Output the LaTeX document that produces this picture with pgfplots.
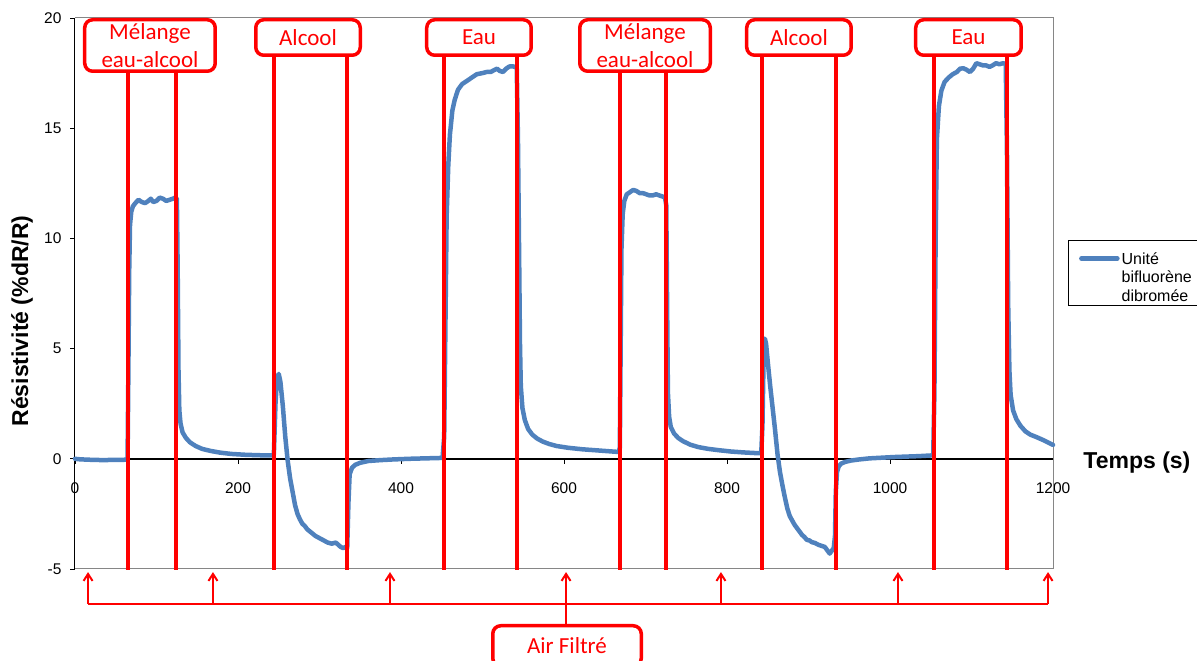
\documentclass[border=0pt]{standalone}
\usepackage{fontspec}
\setmainfont{Liberation Sans}
\newfontfamily\calfont{Carlito}
\usepackage{pgfplots}
\pgfplotsset{compat=1.18}
\usetikzlibrary{arrows.meta}
\definecolor{exblue}{RGB}{79,129,189}
\definecolor{frameg}{RGB}{134,134,134}
\tikzset{redbox/.style={draw=red, line width=3.5pt, rounded corners=8pt, fill=white, inner sep=0pt,
   anchor=north, align=center, text=red, font=\calfont\fontsize{23}{28}\selectfont}}
\begin{document}
\begin{tikzpicture}
\path[use as bounding box] (-75pt,-92pt) rectangle (1122pt,569pt);
\begin{axis}[
 scale only axis, width=978pt, height=551pt,
 xmin=0,xmax=1200,ymin=-5,ymax=20,
 axis x line=middle, axis y line=left,
 axis line style={-},
 x axis line style={black, line width=1.5pt},
 y axis line style={black, line width=1pt},
 hide obscured x ticks=false, hide obscured y ticks=false,
 xtick={0,200,400,600,800,1000,1200}, xticklabels={0,200,400,600,800,1000,1200},
 ytick={-5,0,5,10,15,20}, yticklabels={-5,0,5,10,15,20},
 xtick align=outside, ytick align=outside, major tick length=5pt,
 tick style={black, line width=0.8pt},
 xticklabel style={font=\fontsize{15.5}{15.5}\selectfont, yshift=-15pt},
 yticklabel style={font=\fontsize{15.5}{15.5}\selectfont, xshift=-5pt},
 clip=false,
 legend style={at={(1.0153,0.5971)}, anchor=north west, draw=black, line width=0.8pt,
   font=\fontsize{16}{18.5}\selectfont, inner xsep=3pt, inner ysep=1pt,
   cells={anchor=base west, inner sep=0pt}},
 legend image code/.code={\path[draw=none] (0pt,0pt) -- (47pt,0pt);
   \draw[#1, line width=4.5pt, line cap=round] (10pt,43pt) -- (46pt,43pt);},
]
\draw[frameg, line width=1pt] (axis cs:0,20) -- (axis cs:1200,20) -- (axis cs:1200,-5) -- (axis cs:0,-5);
\addplot[exblue, line width=4.5pt, line join=round, line cap=round] coordinates {
(0,0.0) (5,-0.02) (15,-0.04) (25,-0.05) (35,-0.06) (45,-0.05) (55,-0.05) (63,-0.04) (64.5,0.0)
(65.5,4.0) (66.5,8.5) (67.5,10.6) (69,11.2) (71,11.45) (74,11.6) (78,11.75) (82,11.65) (86,11.6) (90,11.7) (93,11.8) (96,11.65) (100,11.7) (104,11.85) (108,11.8) (112,11.7) (116,11.75) (120,11.8) (123,11.85) (125,11.8)
(126,8.5) (127,4.0) (128,2.2) (129.5,1.6) (132,1.2) (136,0.95) (141,0.75) (148,0.58) (156,0.45) (166,0.36) (178,0.28) (192,0.22) (210,0.18) (228,0.16) (242,0.15)
(244,0.2) (246,2.5) (248,3.7) (250,3.85) (252,3.5) (255,2.4) (258,1.0) (261,-0.1) (264,-0.9) (267,-1.5) (270,-2.1) (273,-2.5) (276,-2.75) (279,-2.95) (282,-3.05) (285,-3.2) (290,-3.35) (295,-3.5) (300,-3.6) (305,-3.7) (310,-3.8) (315,-3.85) (320,-3.8) (323,-3.9) (326,-4.0) (329,-4.05) (332,-4.0) (334,-4.05)
(335.5,-2.0) (337,-0.7) (340,-0.4) (344,-0.27) (350,-0.18) (360,-0.1) (375,-0.06) (390,-0.03) (410,0.0) (430,0.02) (451,0.04)
(453,1.0) (454.5,6) (456,11) (458,13.3) (460,14.7) (463,15.8) (466,16.3) (470,16.75) (475,17.0) (481,17.15) (487,17.3) (493,17.45) (500,17.5) (505,17.55) (510,17.55) (515,17.65) (518,17.7) (521,17.6) (525,17.55) (529,17.7) (533,17.8) (538,17.8) (542,17.75)
(543.5,14.5) (545,9) (546,5.2) (547,3.3) (549,2.3) (552,1.75) (556,1.35) (561,1.1) (567,0.92) (574,0.78) (582,0.67) (591,0.58) (605,0.5) (623,0.43) (645,0.37) (667,0.31)
(668.5,0.5) (669.5,5) (670.5,9.5) (672,11.1) (674,11.7) (677,12.0) (681,12.1) (685,12.2) (689,12.15) (693,12.05) (697,12.05) (701,12.0) (705,11.95) (709,11.95) (713,12.0) (717,11.95) (721,11.9) (724,11.85) (725.5,11.5)
(726.5,7) (727.5,3.0) (729,1.9) (731,1.45) (735,1.15) (740,0.95) (746,0.8) (755,0.64) (765,0.53) (777,0.45) (790,0.39) (805,0.33) (820,0.29) (835,0.26) (842,0.25)
(843.5,1.5) (845,4.8) (846.5,5.45) (848,5.2) (850,4.4) (853,3.3) (856,2.3) (859,1.3) (862,0.2) (865,-0.6) (868,-1.2) (871,-1.75) (874,-2.25) (877,-2.6) (880,-2.8) (883,-3.0) (886,-3.15) (889,-3.3) (892,-3.45) (895,-3.55) (898,-3.68) (901,-3.7) (904,-3.78) (908,-3.82) (912,-3.9) (916,-3.95) (920,-4.0) (923,-4.15) (926,-4.3) (928,-4.2) (931,-4.05) (932.5,-3.5)
(933.5,-1.5) (935,-0.6) (937,-0.35) (940,-0.22) (945,-0.14) (952,-0.08) (962,-0.03) (975,0.02) (990,0.05) (1005,0.08) (1020,0.1) (1035,0.12) (1050,0.15) (1053,0.15)
(1054.5,3) (1056,10) (1057.5,14.5) (1060,16.0) (1063,16.7) (1067,17.1) (1072,17.3) (1077,17.45) (1082,17.55) (1086,17.7) (1090,17.72) (1094,17.65) (1098,17.55) (1102,17.7) (1106,17.95) (1110,17.9) (1114,17.85) (1118,17.85) (1122,17.78) (1126,17.85) (1130,17.95) (1134,17.9) (1139,17.95) (1142,17.9)
(1143.5,14) (1145,7) (1146.5,4.0) (1148,2.9) (1151,2.2) (1155,1.8) (1160,1.5) (1166,1.25) (1172,1.1) (1180,0.98) (1188,0.85) (1195,0.72) (1200,0.63)
};
\addlegendentry{\begin{tabular}[b]{@{}l@{}}\rule{0pt}{21pt}Unité\\bifluorène\\dibromée\end{tabular}}
% vertical red lines
\pgfplotsinvokeforeach{65.0,123.9,668.7,725.2}{\draw[red, line width=3.5pt] (axis cs:#1,17.6) -- (axis cs:#1,-5.05);}
\pgfplotsinvokeforeach{244.2,333.7,452.8,542.3,843.0,933.7,1054.0,1143.6}{\draw[red, line width=3.5pt] (axis cs:#1,18.3) -- (axis cs:#1,-5.05);}
% boxes
\node[redbox, minimum width=130.5pt, minimum height=51.5pt] at (axis cs:92.0,20) {Mélange\\eau-alcool};
\node[redbox, minimum width=104.5pt, minimum height=35.5pt] at (axis cs:285.9,20) {Alcool};
\node[redbox, minimum width=104.5pt, minimum height=35.5pt] at (axis cs:495.7,20) {Eau};
\node[redbox, minimum width=130.5pt, minimum height=51.5pt] at (axis cs:699.4,20) {Mélange\\eau-alcool};
\node[redbox, minimum width=104.5pt, minimum height=35.5pt] at (axis cs:888.3,20) {Alcool};
\node[redbox, minimum width=105.5pt, minimum height=35.5pt] at (axis cs:1096.3,20) {Eau};
% bottom arrows
\draw[red, line width=2.5pt] (axis cs:16.0,-6.588) -- (axis cs:1193.9,-6.588);
\pgfplotsinvokeforeach{16.0,169.3,386.5,602.5,792.6,1009.8,1193.9}{\draw[red, line width=2pt, -{Straight Barb[length=7pt,width=9pt]}] (axis cs:#1,-6.588) -- (axis cs:#1,-5.14);}
\draw[red, line width=2.5pt] (axis cs:602.5,-6.588) -- (axis cs:602.5,-7.5);
\node[redbox, minimum width=148.5pt, minimum height=40.5pt] at (axis cs:603.7,-7.495) {Air Filtré};
% axis titles
\node[rotate=90, font=\bfseries\fontsize{23}{23}\selectfont] at (axis description cs:-0.0542,0.450) {Résistivité (\%dR/R)};
\node[font=\bfseries\fontsize{23}{23}\selectfont, anchor=base] at (axis cs:1303,-0.42) {Temps (s)};
\end{axis}
\end{tikzpicture}
\end{document}
